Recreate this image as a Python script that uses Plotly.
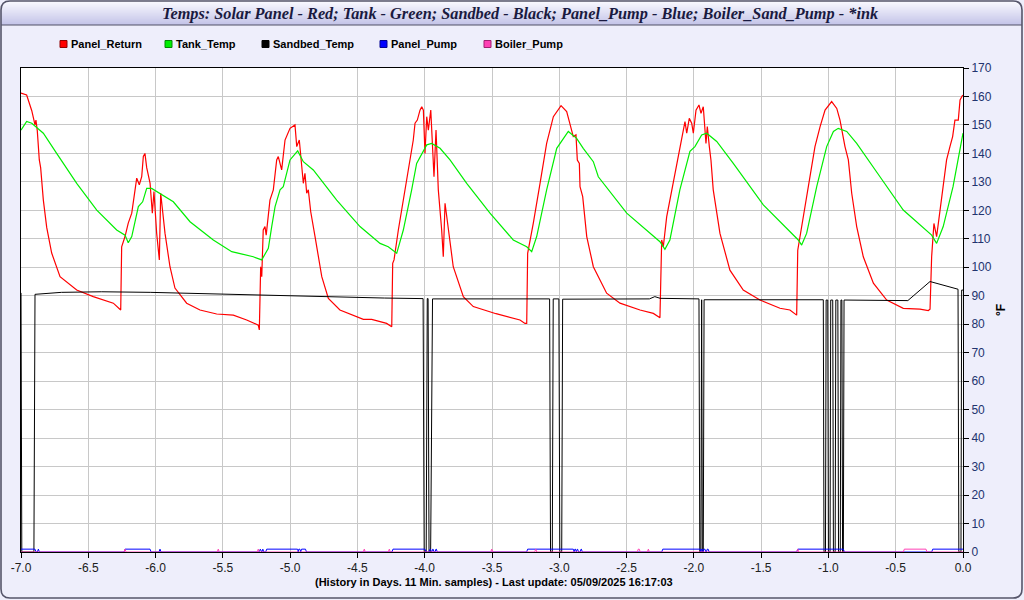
import math
import plotly.graph_objects as go

# ---------------- data ----------------
panel_return_days = [
    -7.000, -6.958, -6.920, -6.896, -6.889, -6.879, -6.864, -6.854, -6.834, -6.809,
    -6.772, -6.710, -6.586, -6.463, -6.314, -6.259, -6.252, -6.227, -6.203, -6.177,
    -6.140, -6.121, -6.103, -6.091, -6.079, -6.066, -6.041, -6.024, -6.012, -5.992,
    -5.972, -5.962, -5.930, -5.893, -5.856, -5.769, -5.670, -5.546, -5.422, -5.323,
    -5.237, -5.229, -5.219, -5.211, -5.200, -5.187, -5.178, -5.150, -5.125, -5.100,
    -5.088, -5.063, -5.038, -5.001, -4.964, -4.951, -4.932, -4.914, -4.902, -4.890,
    -4.877, -4.865, -4.847, -4.815, -4.765, -4.716, -4.630, -4.456, -4.394, -4.283,
    -4.245, -4.238, -4.228, -4.196, -4.159, -4.122, -4.097, -4.085, -4.072, -4.055,
    -4.035, -4.022, -4.010, -3.998, -3.985, -3.973, -3.955, -3.941, -3.931, -3.916,
    -3.899, -3.874, -3.862, -3.849, -3.825, -3.788, -3.713, -3.639, -3.470, -3.292,
    -3.255, -3.242, -3.235, -3.218, -3.193, -3.143, -3.094, -3.044, -2.987, -2.945,
    -2.913, -2.896, -2.876, -2.866, -2.851, -2.846, -2.826, -2.796, -2.747, -2.648,
    -2.549, -2.400, -2.301, -2.252, -2.239, -2.227, -2.202, -2.153, -2.116, -2.090,
    -2.066, -2.053, -2.034, -2.016, -2.004, -1.984, -1.962, -1.947, -1.930, -1.910,
    -1.900, -1.885, -1.873, -1.856, -1.806, -1.732, -1.633, -1.509, -1.360, -1.286,
    -1.249, -1.236, -1.228, -1.211, -1.187, -1.137, -1.100, -1.062, -1.025, -0.976,
    -0.938, -0.914, -0.877, -0.852, -0.827, -0.790, -0.741, -0.666, -0.567, -0.444,
    -0.320, -0.258, -0.245, -0.233, -0.216, -0.196, -0.171, -0.147, -0.122, -0.097,
    -0.077, -0.060, -0.035, -0.022, -0.002,
]
panel_return_f = [
    161.2, 160.5, 155.0, 150.0, 151.7, 148.0, 137.7, 135.0, 123.6, 114.0,
    105.0, 96.7, 92.0, 89.7, 87.4, 85.0, 107.2, 110.8, 115.5, 119.0,
    131.3, 129.0, 131.8, 138.9, 140.0, 135.0, 129.6, 119.0, 126.6, 112.0,
    102.6, 126.0, 112.0, 100.2, 92.7, 87.4, 85.0, 83.6, 83.2, 81.5,
    79.7, 78.0, 100.2, 96.7, 113.1, 114.3, 111.3, 123.6, 127.2, 137.7,
    138.9, 134.2, 144.7, 148.8, 150.0, 142.4, 144.7, 135.3, 129.5, 133.0,
    126.0, 127.2, 119.5, 110.8, 96.7, 89.1, 85.0, 81.7, 81.7, 80.3,
    79.1, 101.4, 102.6, 113.1, 123.6, 134.2, 142.4, 144.7, 150.6, 151.7,
    155.2, 156.4, 155.2, 140.0, 152.9, 148.2, 155.2, 141.2, 131.8, 148.2,
    127.2, 113.1, 103.7, 122.5, 113.1, 100.2, 89.7, 86.2, 83.7, 81.5,
    80.3, 80.3, 104.9, 109.0, 115.5, 129.5, 143.5, 152.9, 156.8, 154.7,
    149.4, 145.9, 146.5, 137.7, 136.5, 128.3, 124.8, 110.8, 100.2, 90.9,
    87.4, 85.0, 83.8, 82.3, 109.6, 107.2, 117.7, 129.5, 138.9, 145.9,
    151.2, 147.1, 152.3, 150.6, 147.1, 155.2, 157.0, 154.1, 156.4, 143.5,
    149.4, 142.4, 137.7, 127.2, 111.9, 99.0, 92.0, 88.5, 85.6, 85.0,
    83.8, 83.2, 106.0, 110.8, 116.6, 131.8, 142.4, 149.4, 155.2, 158.2,
    155.8, 151.7, 142.4, 137.7, 126.0, 114.3, 103.7, 94.4, 88.5, 85.6,
    85.3, 84.8, 85.3, 103.7, 115.4, 110.8, 120.1, 128.3, 137.7, 142.4,
    145.9, 151.7, 151.7, 158.8, 160.5,
]

tank_temp_days = [
    -7.000, -6.958, -6.920, -6.834, -6.735, -6.586, -6.437, -6.289, -6.227, -6.203,
    -6.177, -6.128, -6.096, -6.066, -6.029, -5.967, -5.868, -5.744, -5.571, -5.434,
    -5.274, -5.211, -5.162, -5.137, -5.112, -5.075, -5.051, -5.001, -4.944, -4.902,
    -4.828, -4.654, -4.481, -4.332, -4.271, -4.208, -4.159, -4.097, -4.060, -3.985,
    -3.948, -3.886, -3.812, -3.688, -3.515, -3.342, -3.242, -3.205, -3.168, -3.094,
    -3.019, -2.933, -2.871, -2.822, -2.747, -2.710, -2.499, -2.252, -2.215, -2.178,
    -2.104, -2.029, -1.992, -1.942, -1.905, -1.830, -1.707, -1.484, -1.286, -1.224,
    -1.199, -1.162, -1.087, -1.013, -0.963, -0.927, -0.864, -0.790, -0.617, -0.444,
    -0.233, -0.196, -0.147, -0.074, 0.000,
]
tank_temp_f = [
    148.2, 151.2, 150.6, 147.1, 140.0, 129.5, 120.1, 113.1, 111.3, 108.6,
    110.8, 121.3, 123.0, 127.7, 127.7, 126.0, 123.0, 116.0, 109.6, 105.5,
    103.7, 102.6, 106.7, 114.3, 121.3, 127.2, 128.3, 137.7, 140.9, 137.1,
    134.2, 123.6, 114.3, 108.4, 107.2, 104.9, 113.1, 127.2, 136.5, 143.0,
    143.5, 141.8, 137.7, 129.5, 119.0, 109.6, 107.2, 105.5, 110.8, 127.2,
    141.8, 147.7, 145.3, 141.8, 137.1, 131.8, 119.0, 109.0, 106.3, 109.6,
    127.2, 140.7, 142.4, 146.5, 147.1, 144.2, 136.5, 121.9, 112.5, 109.6,
    107.8, 111.9, 128.3, 142.4, 147.7, 148.8, 147.7, 143.5, 131.8, 120.1,
    111.3, 108.4, 114.3, 128.3, 147.1,
]

sandbed_days = [
    -7.000, -6.994, -6.904, -6.896, -6.700, -6.400, -6.040, -5.700, -5.370, -5.000,
    -4.650, -4.300, -4.012, -4.004, -3.989, -3.981, -3.975, -3.968, -3.956, -3.942,
    -3.500, -3.072, -3.065, -3.052, -3.045, -3.003, -2.996, -2.982, -2.975, -2.330,
    -2.290, -2.250, -1.962, -1.956, -1.948, -1.942, -1.937, -1.930, -1.924, -1.500,
    -1.038, -1.033, -1.022, -1.017, -1.005, -1.000, -0.988, -0.983, -0.968, -0.963,
    -0.950, -0.945, -0.930, -0.925, -0.912, -0.907, -0.900, -0.895, -0.889, -0.884,
    -0.410, -0.245, -0.037, -0.031, -0.015, -0.010, 0.000,
]
sandbed_f = [
    91.0, 0.0, 0.0, 90.5, 91.2, 91.4, 91.2, 90.8, 90.3, 89.9,
    89.5, 89.2, 89.0, 0.0, 0.0, 89.0, 89.0, 0.0, 0.0, 88.9,
    88.9, 88.9, 0.0, 0.0, 88.9, 88.9, 0.0, 0.0, 88.8, 88.9,
    89.7, 89.1, 88.9, 0.0, 0.0, 88.6, 0.0, 0.0, 88.6, 88.6,
    88.6, 0.0, 0.0, 88.5, 88.5, 0.0, 0.0, 88.5, 88.5, 0.0,
    0.0, 88.5, 88.5, 0.0, 0.0, 88.5, 88.5, 0.0, 0.0, 88.5,
    88.3, 95.0, 92.3, 0.0, 0.0, 92.0, 92.0,
]

# pump "on" periods (start day, end day); equal start/end = one sample
panel_pump_on = [
    (-7.000, -6.896), (-6.871, -6.871), (-6.227, -6.041), (-5.967, -5.967),
    (-5.222, -5.222), (-5.203, -5.203), (-5.174, -4.945), (-4.935, -4.928),
    (-4.915, -4.886), (-4.236, -3.998), (-3.961, -3.958), (-3.940, -3.938),
    (-3.916, -3.914), (-3.235, -2.896), (-2.884, -2.880), (-2.866, -2.864),
    (-2.838, -2.836), (-2.231, -1.953), (-1.942, -1.937), (-1.925, -1.918),
    (-1.900, -1.894), (-1.228, -0.889), (-0.225, 0.000),
]
boiler_pump_on = [
    (-6.227, -6.227), (-5.534, -5.534), (-5.237, -5.237), (-4.449, -4.449),
    (-4.263, -4.263), (-3.502, -3.502), (-3.175, -3.175), (-2.413, -2.406),
    (-2.338, -2.338), (-1.228, -1.228), (-0.436, -0.275),
]
sample_days = 11 / 1440  # 11 minute samples

series_names = ["Panel_Return", "Tank_Temp", "Sandbed_Temp", "Panel_Pump", "Boiler_Pump"]
series_colors = ["#ff0000", "#00ee00", "#000000", "#0000ff", "#ff40b4"]
legend_edge_colors = ["#900000", "#008800", "#000000", "#000090", "#a02070"]

x_tick_vals = [-7.0, -6.5, -6.0, -5.5, -5.0, -4.5, -4.0, -3.5, -3.0, -2.5,
               -2.0, -1.5, -1.0, -0.5, 0.0]
x_tick_text = ["-7.0", "-6.5", "-6.0", "-5.5", "-5.0", "-4.5", "-4.0", "-3.5",
               "-3.0", "-2.5", "-2.0", "-1.5", "-1.0", "-0.5", "0.0"]
y_tick_vals = [0, 10, 20, 30, 40, 50, 60, 70, 80, 90, 100, 110, 120, 130, 140,
               150, 160, 170]

title_text = ("Temps: Solar Panel - Red; Tank - Green; Sandbed - Black; "
              "Panel_Pump - Blue; Boiler_Sand_Pump - *ink")
x_title_text = "(History in Days. 11 Min. samples) - Last update: 05/09/2025 16:17:03"
y_title_text = "°F"


def pump_xy(on_periods):
    xs, ys = [], []
    for a, b in on_periods:
        if a <= -7.0:
            xs, ys = [a], [1]
        else:
            if not xs:
                xs, ys = [-7.0], [0]
            xs += [a - sample_days, a]
            ys += [0, 1]
        xs.append(b)
        ys.append(1)
        if b < 0:
            xs.append(b + sample_days)
            ys.append(0)
    if xs[-1] < 0:
        xs.append(0.0)
        ys.append(0)
    return xs, ys


# ---------------- figure ----------------
W, H = 1024, 600
PL, PR, PT, PB = 21, 963, 68, 552


def fx(px):
    return (px - PL) / (PR - PL)


def fy(py):
    return (PB - py) / (PB - PT)


fig = go.Figure()
fig.add_trace(go.Scatter(x=panel_return_days, y=panel_return_f, mode="lines",
                         name=series_names[0], line=dict(color=series_colors[0], width=1.2)))
fig.add_trace(go.Scatter(x=tank_temp_days, y=tank_temp_f, mode="lines",
                         name=series_names[1], line=dict(color=series_colors[1], width=1.2)))
fig.add_trace(go.Scatter(x=sandbed_days, y=sandbed_f, mode="lines",
                         name=series_names[2], line=dict(color=series_colors[2], width=1)))
px_, py_ = pump_xy(panel_pump_on)
fig.add_trace(go.Scatter(x=px_, y=py_, mode="lines", name=series_names[3],
                         line=dict(color=series_colors[3], width=1)))
bx_, by_ = pump_xy(boiler_pump_on)
fig.add_trace(go.Scatter(x=bx_, y=by_, mode="lines", name=series_names[4],
                         line=dict(color=series_colors[4], width=1)))

shapes = []
# title bar gradient strips
r = 9
top, bar_bottom = 1, 25
left_edge, right_edge = 1, 1022
c_top = (250, 250, 255)
c_bot = (196, 196, 232)
n = bar_bottom - top
for i in range(n):
    y0 = top + i
    dy = r - (i + 0.5)
    inset = r - math.sqrt(max(r * r - dy * dy, 0)) if i < r else 0
    t = i / (n - 1)
    col = tuple(int(c_top[k] + (c_bot[k] - c_top[k]) * t) for k in range(3))
    shapes.append(dict(type="rect", xref="paper", yref="paper",
                       x0=fx(left_edge + inset), x1=fx(right_edge - inset),
                       y0=fy(y0 + 1), y1=fy(y0),
                       fillcolor="rgb(%d,%d,%d)" % col, line=dict(width=0), layer="below"))
shapes.append(dict(type="line", xref="paper", yref="paper",
                   x0=fx(left_edge), x1=fx(right_edge), y0=fy(bar_bottom), y1=fy(bar_bottom),
                   line=dict(color="#505066", width=1.2)))
# rounded page border
x0b, y0b, x1b, y1b = 1, 1, 1022, 598
path = (f"M {fx(x0b + r)},{fy(y0b)} L {fx(x1b - r)},{fy(y0b)} "
        f"Q {fx(x1b)},{fy(y0b)} {fx(x1b)},{fy(y0b + r)} "
        f"L {fx(x1b)},{fy(y1b - r)} Q {fx(x1b)},{fy(y1b)} {fx(x1b - r)},{fy(y1b)} "
        f"L {fx(x0b + r)},{fy(y1b)} Q {fx(x0b)},{fy(y1b)} {fx(x0b)},{fy(y1b - r)} "
        f"L {fx(x0b)},{fy(y0b + r)} Q {fx(x0b)},{fy(y0b)} {fx(x0b + r)},{fy(y0b)} Z")
shapes.append(dict(type="path", xref="paper", yref="paper", path=path,
                   line=dict(color="#55556a", width=1.6)))

annotations = []
annotations.append(dict(xref="paper", yref="paper", x=fx(520), y=fy(13),
                        text="<b><i>" + title_text + "</i></b>", showarrow=False,
                        xanchor="center", yanchor="middle",
                        font=dict(family="Liberation Serif", size=16.3, color="#1a1a40")))

# manual legend (small squares + labels)
legend_square_x = [60, 165, 262, 380, 484]
for name, col, edge, sx in zip(series_names, series_colors, legend_edge_colors, legend_square_x):
    shapes.append(dict(type="rect", xref="paper", yref="paper",
                       x0=fx(sx), x1=fx(sx + 7), y0=fy(47.5), y1=fy(40.5),
                       fillcolor=col, line=dict(color=edge, width=1)))
    annotations.append(dict(xref="paper", yref="paper", x=fx(sx + 8.5), y=fy(44),
                            text="<b>" + name + "</b>", showarrow=False,
                            xanchor="left", yanchor="middle",
                            font=dict(family="Liberation Sans", size=11, color="#000000")))

annotations.append(dict(xref="paper", yref="paper", x=fx(494), y=fy(582),
                        text="<b>" + x_title_text + "</b>", showarrow=False,
                        xanchor="center", yanchor="middle",
                        font=dict(family="Liberation Sans", size=11, color="#000000")))
annotations.append(dict(xref="paper", yref="paper", x=fx(1001), y=fy(310),
                        text="<b>" + y_title_text + "</b>", showarrow=False, textangle=-90,
                        xanchor="center", yanchor="middle",
                        font=dict(family="Liberation Sans", size=12, color="#000000")))

fig.update_layout(
    width=W, height=H,
    margin=dict(l=PL, r=W - PR, t=PT, b=H - PB, autoexpand=False),
    paper_bgcolor="#eeeefb",
    plot_bgcolor="#ffffff",
    showlegend=False,
    shapes=shapes,
    annotations=annotations,
    xaxis=dict(range=[-7.0, 0.0], tickvals=x_tick_vals, ticktext=x_tick_text,
               showgrid=True, gridcolor="#c8c8c8", gridwidth=1, zeroline=False,
               showline=True, linecolor="#000000", linewidth=1, mirror=True,
               ticks="outside", ticklen=5, tickcolor="#000000",
               tickfont=dict(family="Liberation Sans", size=12, color="#202020")),
    yaxis=dict(range=[0, 170], tickvals=y_tick_vals, side="right",
               showgrid=True, gridcolor="#c8c8c8", gridwidth=1, zeroline=False,
               showline=True, linecolor="#000000", linewidth=1, mirror=True,
               ticks="outside", ticklen=5, tickcolor="#000000",
               tickfont=dict(family="Liberation Sans", size=12, color="#22336e")),
)

fig.write_html("out.html", config={"displayModeBar": False},
               post_script="document.body.style.margin='0px';document.body.style.overflow='hidden';")
